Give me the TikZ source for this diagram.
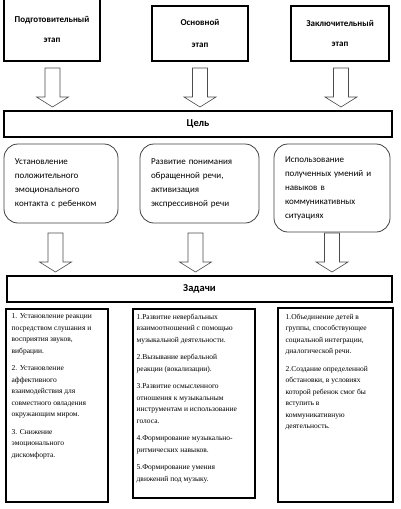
\documentclass[tikz,border=0pt]{standalone}
\usepackage{fontspec}
\setmainfont{Liberation Serif}
\newfontfamily\calibri{Carlito}
\usetikzlibrary{positioning, calc}

\tikzset{
  stagebox/.style={draw, line width=1.1pt, align=center,
    font=\calibri\bfseries\fontsize{9}{11}\selectfont},
  headbox/.style={draw, line width=1.1pt, minimum height=26pt,
    font=\calibri\bfseries\fontsize{10.5}{12}\selectfont},
  goalbox/.style={draw=black!75, line width=0.8pt, rounded corners=14pt,
    align=left, inner xsep=11pt, font=\calibri\fontsize{9}{14}\selectfont},
  taskbox/.style={draw, line width=1.1pt},
  tasktext/.style={align=left, inner sep=0pt,
    font=\fontsize{7.5}{11.5}\selectfont},
  blockarrow/.style={draw=black!70, line width=0.6pt, fill=white},
}

% block arrow pointing down from a named coordinate
\newcommand{\blockdown}[1]{%
  \draw[blockarrow] ($(#1)+(-7.5,0)$) -- ($(#1)+(-7.5,29)$) -- ($(#1)+(-16,29)$)
    -- ($(#1)+(0,39)$) -- ($(#1)+(16,29)$) -- ($(#1)+(7.5,29)$)
    -- ($(#1)+(7.5,0)$) -- cycle;}

\begin{document}
\begin{tikzpicture}[x=1pt, y=-1pt]
  \useasboundingbox (0,0) rectangle (401,509);

  % stages
  \node[stagebox, minimum width=96pt, minimum height=63pt] (prep) at (52,29.5)
    {Подготовительный\\[9pt]этап};
  \node[stagebox, minimum width=96pt, minimum height=55pt] (basic) at (200,33.5)
    {Основной\\[11pt]этап};
  \node[stagebox, minimum width=98pt, minimum height=55pt] (final) at (340,33.5)
    {Заключительный\\[9pt]этап};

  \coordinate (a1) at (52.5,68);
  \coordinate (a2) at (200,68);
  \coordinate (a3) at (341,68);
  \blockdown{a1}
  \blockdown{a2}
  \blockdown{a3}

  % goal
  \node[headbox, minimum width=388pt] (goal) at (198,124) {Цель};

  \node[goalbox, text width=92pt, minimum height=79pt] (g1) at (61,183.5)
    {Установление\\положительного\\эмоционального\\контакта с ребенком};
  \node[goalbox, text width=97pt, minimum height=79pt] (g2) at (199.5,183.5)
    {Развитие понимания\\обращенной речи,\\активизация\\экспрессивной речи};
  \node[goalbox, text width=94pt, minimum height=88pt] (g3) at (332,188)
    {Использование\\полученных умений и\\навыков в\\коммуникативных\\ситуациях};

  \coordinate (b1) at (55.5,233);
  \coordinate (b2) at (195.5,233);
  \coordinate (b3) at (332,233);
  \blockdown{b1}
  \blockdown{b2}
  \blockdown{b3}

  % tasks
  \node[headbox, minimum width=385pt] (tasks) at (199.5,289) {Задачи};

  \node[taskbox, minimum width=102pt, minimum height=193pt] (t1) at (57,405.5) {};
  \node[taskbox, minimum width=122pt, minimum height=189pt] (t2) at (194,403.5) {};
  \node[taskbox, minimum width=115pt, minimum height=194pt] (t3) at (335.5,405) {};

  \node[tasktext, below right=5pt and 6pt of t1.north west] (t1text)
    {1. Установление реакции\\посредством слушания и\\восприятия звуков,\\вибрации.\\[6pt]
     2. Установление\\аффективного\\взаимодействия для\\совместного овладения\\окружающим миром.\\[6pt]
     3. Снижение\\эмоционального\\дискомфорта.};
  \node[tasktext, below right=5pt and 4pt of t2.north west] (t2text)
    {1.Развитие невербальных\\взаимоотношений с помощью\\музыкальной деятельности.\\[6pt]
     2.Вызывание вербальной\\реакции (вокализации).\\[6pt]
     3.Развитие осмысленного\\отношения к музыкальным\\инструментам и использование\\голоса.\\[6pt]
     4.Формирование музыкально-\\ритмических навыков.\\[6pt]
     5.Формирование умения\\движений под музыку.};
  \node[tasktext, below right=6pt and 8pt of t3.north west] (t3text)
    {1.Объединение детей в\\группы, способствующее\\социальной интеграции,\\диалогической речи.\\[6pt]
     2.Создание определенной\\обстановки, в условиях\\которой ребенок смог бы\\вступить в\\коммуникативную\\деятельность.};
\end{tikzpicture}
\end{document}
